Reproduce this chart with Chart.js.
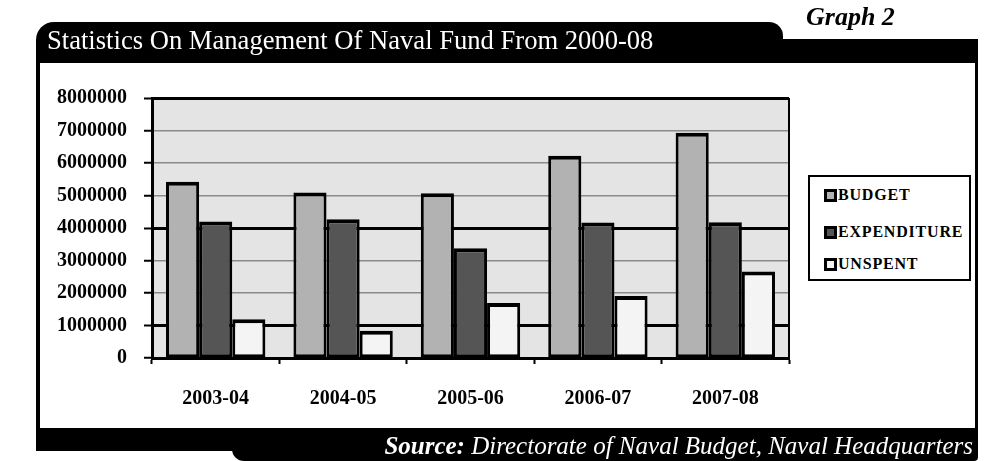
<!DOCTYPE html>
<html>
<head>
<meta charset="utf-8">
<script src="https://cdn.jsdelivr.net/npm/chart.js@4/dist/chart.umd.min.js"></script>
<style>
  html, body { margin: 0; padding: 0; background: #fff; }
  body { width: 997px; height: 461px; position: relative; overflow: hidden;
         font-family: 'Liberation Serif', 'Times New Roman', serif; }
  .blk { position: absolute; background: #000; }
  #chartWrap { position: absolute; left: 0; top: 0; width: 997px; height: 461px; }
  #title { position: absolute; left: 47px; top: 23px; color: #fff; font-size: 26.6px;
           white-space: nowrap; line-height: 34px; }
  #graphNo { position: absolute; left: 806px; top: 2px; font-size: 26px; font-weight: bold;
             font-style: italic; white-space: nowrap; }
  #source { position: absolute; right: 24px; top: 431px; color: #fff; font-size: 25px;
            font-style: italic; white-space: nowrap; line-height: 30px; }
  #legend { position: absolute; left: 808px; top: 175px; width: 159px; height: 102px;
            border: 2px solid #000; background: #fff; }
  .item { position: absolute; left: 14px; height: 20px; display: flex; align-items: center;
          font-weight: bold; font-size: 16px; letter-spacing: 0.8px; white-space: nowrap; }
  .sw { width: 7px; height: 7px; border: 3px solid #000; margin-right: 1px; }
</style>
</head>
<body>
<!-- frame -->
<div class="blk" style="left:36px;top:22px;width:747px;height:41px;border-top-left-radius:18px;border-top-right-radius:14px;"></div>
<div class="blk" style="left:780px;top:39px;width:198px;height:24px;"></div>
<div class="blk" style="left:36px;top:60px;width:4px;height:370px;"></div>
<div class="blk" style="left:975px;top:60px;width:3px;height:370px;"></div>
<div class="blk" style="left:36px;top:428px;width:942px;height:23px;"></div>
<div class="blk" style="left:232px;top:428px;width:746px;height:33px;border-bottom-left-radius:12px;border-bottom-right-radius:4px;"></div>

<div id="chartWrap"><canvas id="c" width="997" height="461"></canvas></div>

<div id="title">Statistics On Management Of Naval Fund From 2000-08</div>
<div id="graphNo">Graph 2</div>
<div id="source"><b>Source:</b> Directorate of Naval Budget, Naval Headquarters</div>
<div id="legend"></div>

<script>
const categories = ['2003-04', '2004-05', '2005-06', '2006-07', '2007-08'];
const seriesNames = ['BUDGET', 'EXPENDITURE', 'UNSPENT'];
const budget = [5420000, 5090000, 5070000, 6220000, 6930000];
const expenditure = [4200000, 4270000, 3380000, 4170000, 4180000];
const unspent = [1190000, 840000, 1690000, 1910000, 2660000];
const yTicks = [0, 1000000, 2000000, 3000000, 4000000, 5000000, 6000000, 7000000, 8000000];

const seriesColors = ['#b2b2b2', '#555555', '#f4f4f4'];
const seriesData = [budget, expenditure, unspent];
const FONT = "'Liberation Serif', 'Times New Roman', serif";

Chart.defaults.font.family = FONT;
Chart.defaults.color = '#000';

const plotBg = {
  id: 'plotBg',
  beforeDraw(chart) {
    const a = chart.chartArea, ctx = chart.ctx;
    ctx.save();
    ctx.fillStyle = '#e4e4e4';
    ctx.fillRect(a.left, a.top, a.right - a.left, a.bottom - a.top);
    ctx.restore();
  },
  afterDraw(chart) {
    const a = chart.chartArea, ctx = chart.ctx;
    ctx.save();
    ctx.strokeStyle = '#000';
    ctx.lineWidth = 2;
    ctx.beginPath();
    ctx.moveTo(a.right, a.top);
    ctx.lineTo(a.right, a.bottom);
    ctx.stroke();
    ctx.restore();
  }
};

const heavy = [1000000, 4000000, 8000000];

const chart = new Chart(document.getElementById('c'), {
  type: 'bar',
  data: {
    labels: categories,
    datasets: seriesNames.map((n, i) => ({
      label: n,
      data: seriesData[i],
      backgroundColor: seriesColors[i],
      borderColor: '#000',
      borderWidth: { top: 4, left: 3, right: 3, bottom: 3 },
      borderSkipped: false,
      categoryPercentage: 0.78,
      barPercentage: 1.0
    }))
  },
  options: {
    responsive: false,
    animation: false,
    devicePixelRatio: 1,
    layout: { padding: { left: 40, right: 208, top: 98, bottom: 0 } },
    plugins: { legend: { display: false }, tooltip: { enabled: false }, title: { display: false } },
    scales: {
      x: {
        offset: true,
        grid: { display: true, drawOnChartArea: false, drawTicks: true, tickLength: 6,
                tickColor: '#000', tickWidth: 2, offset: true },
        border: { display: true, color: '#000', width: 3 },
        ticks: { font: { size: 20, weight: 'bold' }, color: '#000', padding: 23, maxRotation: 0 },
        afterFit(s) { s.height = 103; }
      },
      y: {
        min: 0, max: 8000000,
        afterBuildTicks(s) { s.ticks = yTicks.map(v => ({ value: v })); },
        grid: {
          drawTicks: true, tickLength: 8, tickColor: '#000', tickWidth: 2,
          color: (ctx) => heavy.includes(ctx.tick && ctx.tick.value) ? '#000' : '#8a8a8a',
          lineWidth: (ctx) => heavy.includes(ctx.tick && ctx.tick.value) ? 3 : 1.5
        },
        border: { display: true, color: '#000', width: 3 },
        ticks: { font: { size: 20, weight: 'bold' }, color: '#000', padding: 17,
                 callback: (v) => String(v) },
        afterFit(s) { s.width = 112; }
      }
    }
  },
  plugins: [plotBg]
});

// HTML legend built from the chart's datasets
const leg = document.getElementById('legend');
const rowTops = [8, 45, 77];
chart.data.datasets.forEach((ds, i) => {
  const row = document.createElement('div');
  row.className = 'item';
  row.style.top = rowTops[i] + 'px';
  const sw = document.createElement('span');
  sw.className = 'sw';
  sw.style.background = ds.backgroundColor;
  const tx = document.createElement('span');
  tx.textContent = ds.label;
  row.appendChild(sw); row.appendChild(tx);
  leg.appendChild(row);
});
</script>
</body>
</html>
